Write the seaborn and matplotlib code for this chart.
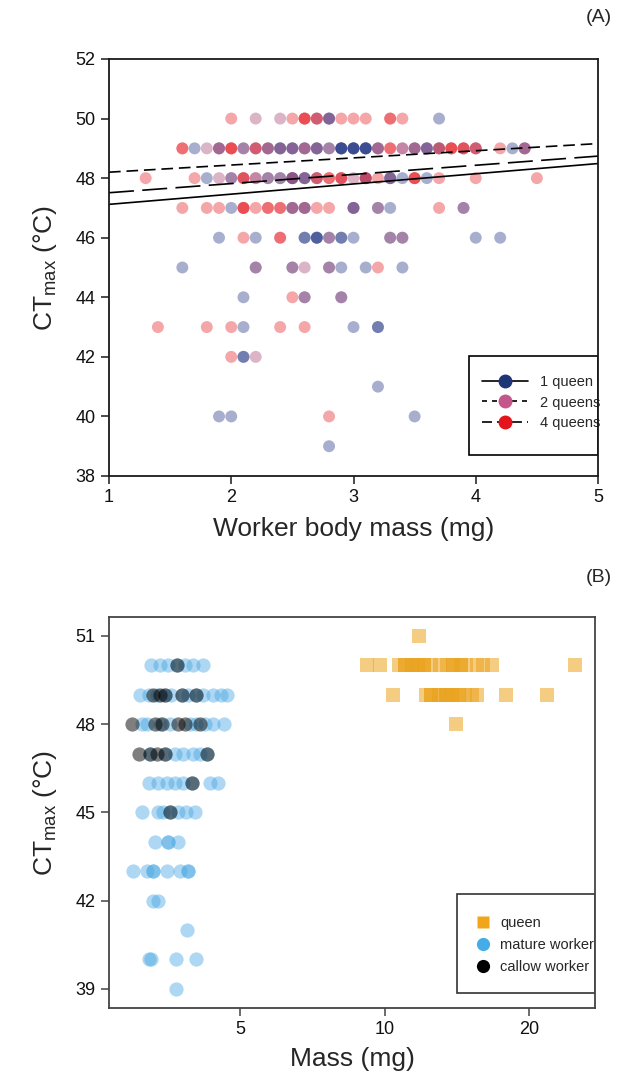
import numpy as np
import pandas as pd
import matplotlib
matplotlib.use("Agg")
import matplotlib.pyplot as plt
import seaborn as sns
from matplotlib.lines import Line2D
from matplotlib.patches import Rectangle
from matplotlib.ticker import FixedLocator, FixedFormatter, NullLocator

# ---------------- Panel A data (worker body mass vs CTmax, by queen number) ----------------
q1_rows = {
    50: [2.8, 2.8, 3.7],
    49: [1.7, 1.9, 2.1, 2.3, 2.4, 2.4, 2.5, 2.5, 2.6, 2.7, 2.7, 2.8, 2.9, 2.9, 2.9, 2.9, 3.0, 3.0,
         3.0, 3.0, 3.1, 3.1, 3.1, 3.1, 3.2, 3.5, 3.6, 3.6, 3.7, 4.3, 4.4],
    48: [1.8, 2.0, 2.3, 2.4, 2.5, 2.5, 2.6, 2.6, 3.1, 3.3, 3.3, 3.4, 3.6],
    47: [2.0, 2.5, 2.6, 3.0, 3.0, 3.2, 3.3, 3.9],
    46: [1.9, 2.2, 2.6, 2.6, 2.7, 2.7, 2.7, 2.8, 2.9, 2.9, 3.0, 3.3, 3.4, 4.0, 4.2],
    45: [1.6, 2.2, 2.5, 2.8, 2.9, 3.1, 3.4],
    44: [2.1, 2.6, 2.9],
    43: [2.1, 3.0, 3.2, 3.2],
    42: [2.1, 2.1],
    41: [3.2],
    40: [1.9, 2.0, 3.5],
    39: [2.8],
}
q2_rows = {
    50: [2.2, 2.4, 2.7, 2.7, 2.8],
    49: [1.8, 1.9, 1.9, 2.1, 2.2, 2.2, 2.3, 2.3, 2.4, 2.5, 2.6, 2.6, 2.7, 2.8, 3.2, 3.2, 3.4, 3.4,
         3.5, 3.5, 3.6, 3.7, 3.9, 4.0, 4.0, 4.4, 4.4],
    48: [1.9, 2.0, 2.1, 2.2, 2.2, 2.3, 2.4, 2.5, 2.5, 2.6, 2.7, 2.7, 2.9, 3.0, 3.1, 3.1, 3.3],
    47: [2.5, 2.5, 2.6, 2.6, 3.0, 3.2, 3.9],
    46: [2.8, 3.3, 3.4],
    45: [2.2, 2.5, 2.6, 2.8],
    44: [2.6, 2.9],
    42: [2.2],
}
q4_rows = {
    50: [2.0, 2.5, 2.6, 2.6, 2.6, 2.7, 2.9, 3.0, 3.1, 3.3, 3.3, 3.4],
    49: [1.6, 1.6, 2.0, 2.0, 2.0, 2.2, 3.3, 3.3, 3.7, 3.8, 3.8, 3.8, 3.9, 3.9, 4.0, 4.2],
    48: [1.3, 1.7, 2.1, 2.1, 2.7, 2.8, 2.8, 2.9, 2.9, 3.1, 3.2, 3.5, 3.5, 3.5, 3.7, 4.0, 4.5],
    47: [1.6, 1.8, 1.9, 2.1, 2.1, 2.1, 2.2, 2.3, 2.3, 2.4, 2.4, 2.7, 2.8, 3.7],
    46: [2.1, 2.4, 2.4],
    45: [3.2],
    44: [2.5],
    43: [1.4, 1.8, 2.0, 2.4, 2.6],
    42: [2.0],
    40: [2.8],
}
groups_A = ["1 queen", "2 queens", "4 queens"]

# fitted lines
line_x = [1.0, 5.0]
line_1q = [47.12, 48.49]
line_2q = [48.20, 49.16]
line_4q = [47.51, 48.74]

# ---------------- Panel B data (mass vs CTmax, by caste) ----------------
queen_rows = {
    51: [11.8],
    50: [9.2, 9.8, 10.7, 11.0, 11.0, 11.4, 11.4, 11.75, 11.75, 12.1, 12.1, 12.5, 13.05, 13.5,
         13.9, 13.9, 14.4, 14.4, 14.8, 15.55, 16.05, 16.7, 24.9],
    49: [10.4, 12.2, 12.5, 12.5, 13.0, 13.0, 13.4, 13.4, 13.8, 13.8, 14.3, 14.3, 14.7, 15.2,
         15.55, 17.9, 21.8],
    48: [14.1],
}
mature_rows = {
    50: [3.27, 3.41, 3.55, 3.69, 3.84, 4.00, 4.19],
    49: [3.10, 3.23, 3.36, 3.49, 3.60, 3.78, 3.90, 4.06, 4.19, 4.39, 4.57, 4.69],
    48: [3.12, 3.21, 3.41, 3.58, 3.94, 4.06, 4.23, 4.39, 4.64],
    47: [3.25, 3.49, 3.66, 3.81, 4.00, 4.13, 4.26],
    46: [3.23, 3.38, 3.52, 3.66, 3.81, 3.97, 4.33, 4.51],
    45: [3.12, 3.38, 3.46, 3.58, 3.72, 3.87, 4.03],
    44: [3.33, 3.55, 3.55, 3.72],
    43: [2.99, 3.21, 3.30, 3.30, 3.52, 3.75, 3.90, 3.90],
    42: [3.30, 3.38],
    41: [3.88],
    40: [3.23, 3.27, 3.68, 4.05],
    39: [3.68],
}
callow_rows = {
    50: [3.69],
    49: [3.30, 3.41, 3.49, 3.78, 4.06],
    48: [2.98, 3.33, 3.44, 3.72, 3.84, 4.13],
    47: [3.09, 3.25, 3.36, 3.49, 4.26],
    46: [3.97],
    45: [3.58],
}
castes_B = ["queen", "mature worker", "callow worker"]

ticks_A_x = [1, 2, 3, 4, 5]
ticks_A_y = [38, 40, 42, 44, 46, 48, 50, 52]
ticks_B_x = [5, 10, 20]
ticks_B_y = [39, 42, 45, 48, 51]


def rows_to_df(rows, label):
    recs = [(m, ct, label) for ct, ms in rows.items() for m in ms]
    return pd.DataFrame(recs, columns=["mass", "ct", "group"])


dfA = pd.concat([rows_to_df(q1_rows, groups_A[0]),
                 rows_to_df(q2_rows, groups_A[1]),
                 rows_to_df(q4_rows, groups_A[2])], ignore_index=True)
df_queen = rows_to_df(queen_rows, castes_B[0])
df_mature = rows_to_df(mature_rows, castes_B[1])
df_callow = rows_to_df(callow_rows, castes_B[2])

# ---------------- styling ----------------
sns.set_theme(style="ticks")
plt.rcParams["font.family"] = ["Liberation Sans", "DejaVu Sans"]
plt.rcParams["mathtext.fontset"] = "custom"
plt.rcParams["mathtext.rm"] = "Liberation Sans"

colA = {"1 queen": "#1b2f80", "2 queens": "#a23c6e", "4 queens": "#e5171d"}
colB = {"queen": "#eba21c", "mature worker": "#4aa8e4", "callow worker": "#000000"}

W, H = 627, 1082
fig = plt.figure(figsize=(W / 100, H / 100), dpi=100)

def px_axes(l, r, t, b):
    return fig.add_axes([l / W, 1 - b / H, (r - l) / W, (b - t) / H])

tick_fs = 13
lab_fs = 19
leg_fs = 10.5

# ---------------- Panel A ----------------
axA = px_axes(109, 598, 59, 476)
sns.scatterplot(data=dfA, x="mass", y="ct", hue="group", hue_order=groups_A,
                palette=colA, s=74, alpha=0.38, linewidth=0, legend=False, ax=axA)
axA.plot(line_x, line_1q, color="black", lw=1.2, ls="-")
axA.plot(line_x, line_2q, color="black", lw=1.2, dashes=(7, 3.5))
axA.plot(line_x, line_4q, color="black", lw=1.2, dashes=(15, 5))
axA.set_xlim(1, 5)
axA.set_ylim(38, 52)
axA.set_xticks(ticks_A_x)
axA.set_yticks(ticks_A_y)
axA.set_xlabel("Worker body mass (mg)", fontsize=lab_fs, labelpad=8)
axA.set_ylabel(r"CT$_\mathregular{max}$ (°C)", fontsize=lab_fs, labelpad=12)

handlesA = [
    Line2D([0], [0], color="black", lw=1.2, ls="-", marker="o", markersize=9,
           markerfacecolor="#1f3676", markeredgecolor="#1f3676"),
    Line2D([0], [0], color="black", lw=1.2, dashes=(3, 3), marker="o", markersize=9,
           markerfacecolor="#c4568c", markeredgecolor="#c4568c"),
    Line2D([0], [0], color="black", lw=1.2, dashes=(6, 3), marker="o", markersize=9,
           markerfacecolor="#e3141c", markeredgecolor="#e3141c"),
]
axA.add_patch(Rectangle((0.7362, 0.0504), 0.2638, 0.2374, transform=axA.transAxes,
                        facecolor="white", edgecolor="black", lw=1.2, zorder=5))
legA = axA.legend(handlesA, groups_A, loc="center left",
                  bbox_to_anchor=((482 - 109) / 489, (476 - 402.5) / 417),
                  borderaxespad=0, borderpad=0, fontsize=leg_fs, handlelength=3.15,
                  frameon=False, labelspacing=0.45, handletextpad=0.8)
legA.set_zorder(6)

# ---------------- Panel B ----------------
axB = px_axes(109, 595, 617, 1008)
sns.scatterplot(data=df_queen, x="mass", y="ct", color=colB["queen"], marker="s",
                s=105, alpha=0.55, linewidth=0, ax=axB, legend=False)
sns.scatterplot(data=df_mature, x="mass", y="ct", color=colB["mature worker"], marker="o",
                s=105, alpha=0.45, linewidth=0, ax=axB, legend=False)
sns.scatterplot(data=df_callow, x="mass", y="ct", color=colB["callow worker"], marker="o",
                s=105, alpha=0.5, linewidth=0, ax=axB, legend=False)
axB.set_xscale("log")
axB.set_xlim(2.67, 27.4)
axB.set_ylim(38.35, 51.64)
axB.xaxis.set_major_locator(FixedLocator(ticks_B_x))
axB.xaxis.set_major_formatter(FixedFormatter([str(t) for t in ticks_B_x]))
axB.xaxis.set_minor_locator(NullLocator())
axB.set_yticks(ticks_B_y)
axB.set_xlabel("Mass (mg)", fontsize=lab_fs, labelpad=6)
axB.set_ylabel(r"CT$_\mathregular{max}$ (°C)", fontsize=lab_fs, labelpad=12)

handlesB = [
    Line2D([0], [0], ls="none", marker="s", markersize=8, markerfacecolor="#f2a51a",
           markeredgecolor="none"),
    Line2D([0], [0], ls="none", marker="o", markersize=9.5, markerfacecolor="#45ace8",
           markeredgecolor="none"),
    Line2D([0], [0], ls="none", marker="o", markersize=9.5, markerfacecolor="black",
           markeredgecolor="none"),
]
axB.add_patch(Rectangle((0.716, 0.0384), 0.284, 0.2532, transform=axB.transAxes,
                        facecolor="white", edgecolor="#333333", lw=1.2, zorder=5))
legB = axB.legend(handlesB, castes_B, loc="center left",
                  bbox_to_anchor=((475.4 - 109) / 486, (1008 - 945) / 391),
                  borderaxespad=0, borderpad=0, fontsize=leg_fs, handlelength=1.0,
                  frameon=False, labelspacing=0.55, handletextpad=0.7)
legB.set_zorder(6)

for ax, sc in ((axA, "#1a1a1a"), (axB, "#444444")):
    for sp in ax.spines.values():
        sp.set_linewidth(1.3)
        sp.set_color(sc)
        sp.set_zorder(7)
    ax.tick_params(axis="both", which="major", direction="out", length=6, width=1.1,
                   labelsize=tick_fs, color=sc, labelcolor="#111111")

fig.text(612 / W, 1 - 18 / H, "(A)", ha="right", va="center", fontsize=14)
fig.text(612 / W, 1 - 578 / H, "(B)", ha="right", va="center", fontsize=14)

fig.savefig("out.png", dpi=100)
